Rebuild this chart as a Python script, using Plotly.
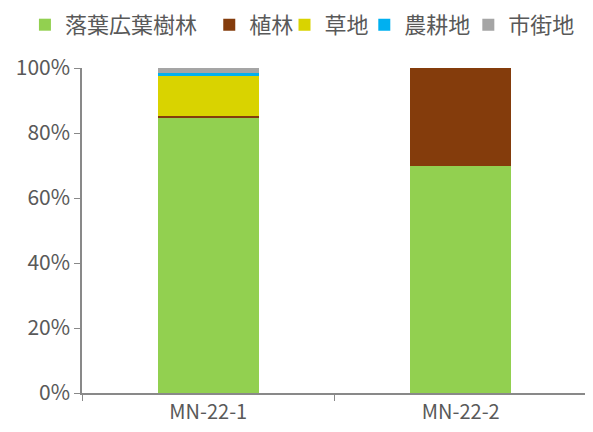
import plotly.graph_objects as go

categories = ["MN-22-1", "MN-22-2"]
series_names = ["落葉広葉樹林", "植林", "草地", "農耕地", "市街地"]
deciduous = [0.845, 0.70]
plantation = [0.007, 0.30]
grassland = [0.123, 0.0]
farmland = [0.010, 0.0]
urban = [0.015, 0.0]
colors = ["#92D050", "#843C0C", "#D9D300", "#00B0F0", "#A5A5A5"]
y_ticks = [0, 0.2, 0.4, 0.6, 0.8, 1.0]
y_tick_labels = ["0%", "20%", "40%", "60%", "80%", "100%"]

values = [deciduous, plantation, grassland, farmland, urban]
legend_ids = ["legend", "legend2", "legend3", "legend4", "legend5"]
legend_x = [-0.113, 0.252, 0.401, 0.559, 0.765]

fig = go.Figure()
for name, vals, col, lid in zip(series_names, values, colors, legend_ids):
    fig.add_trace(go.Bar(x=categories, y=vals, name=name, marker_color=col,
                         marker_line_width=0, legend=lid))

font_family = "Noto Sans CJK JP"
# page has an 8px body margin; figure is sized/offset to compensate
W, H = 585, 424
legend_common = dict(orientation="h", yanchor="bottom", y=1.068, xanchor="left",
                     font=dict(size=22, color="#595959", family=font_family),
                     itemwidth=30, bgcolor="rgba(0,0,0,0)", borderwidth=0)
layout_legends = {lid: dict(x=lx, **legend_common) for lid, lx in zip(legend_ids, legend_x)}

fig.update_layout(
    width=W, height=H,
    barmode="stack",
    bargap=0.6,
    plot_bgcolor="white", paper_bgcolor="white",
    margin=dict(l=74, r=6, t=60, b=39, autoexpand=False),
    font=dict(family=font_family, color="#595959", size=18),
    showlegend=True,
    **layout_legends,
)
fig.update_xaxes(showline=True, linecolor="#898989", linewidth=1.5, automargin=False,
                 ticks="outside", tickson="boundaries", ticklen=6, tickcolor="#898989",
                 tickfont=dict(size=20, color="#595959"))
fig.update_yaxes(range=[0, 1], tickvals=y_ticks, ticktext=y_tick_labels, automargin=False,
                 showline=True, linecolor="#898989", linewidth=1.5,
                 ticks="outside", ticklen=6, tickcolor="#898989",
                 showgrid=False, zeroline=False,
                 tickfont=dict(size=21, color="#595959"))

fig.write_html("out.html")
